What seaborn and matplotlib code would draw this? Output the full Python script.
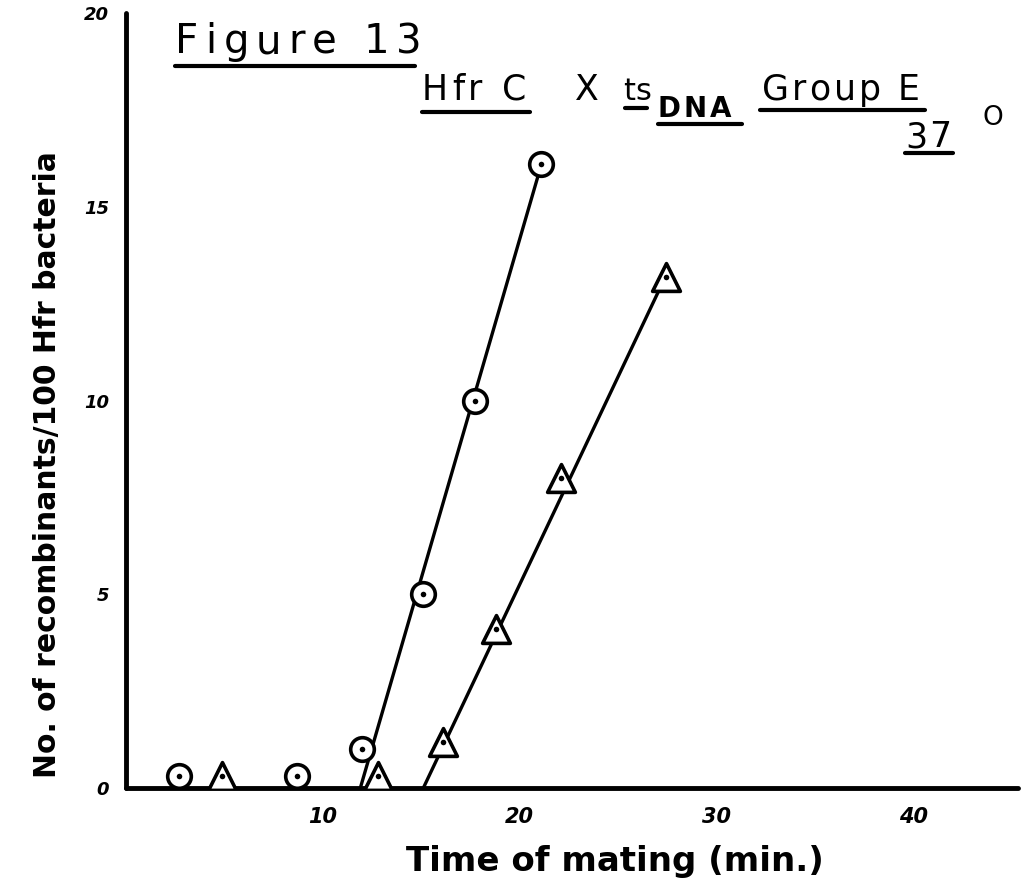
import matplotlib
matplotlib.use("Agg")
import matplotlib.pyplot as plt
from matplotlib.lines import Line2D
import seaborn as sns
import pandas as pd

# ---- data ----
circle_x = [2.7, 8.7, 12.0, 15.1, 17.7, 21.1]
circle_y = [0.3, 0.3, 1.0, 5.0, 10.0, 16.1]
triangle_x = [4.9, 12.8, 16.1, 18.8, 22.1, 27.4]
triangle_y = [0.3, 0.3, 1.2, 4.1, 8.0, 13.2]
# fitted lines (x-intercept to last point)
circle_fit_x = [11.9, 21.1]
circle_fit_y = [0.0, 16.1]
triangle_fit_x = [15.1, 27.4]
triangle_fit_y = [0.0, 13.2]

x_ticks = [10, 20, 30, 40]
y_ticks = [0, 5, 10, 15, 20]
x_label = "Time of mating (min.)"
y_label = "No. of recombinants/100 Hfr bacteria"

sns.set_theme(style="white")
plt.rcParams['font.family'] = ['DejaVu Sans']
plt.rcParams['text.color'] = 'black'
plt.rcParams['axes.labelcolor'] = 'black'
plt.rcParams['xtick.color'] = 'black'
plt.rcParams['ytick.color'] = 'black'

W, H = 1030, 890
fig = plt.figure(figsize=(W / 100, H / 100), dpi=100)
ax = fig.add_axes([126 / W, 1 - 788 / H, (1018 - 126) / W, (788 - 13) / H])

circ = pd.DataFrame({"x": circle_x, "y": circle_y})
tri = pd.DataFrame({"x": triangle_x, "y": triangle_y})

sns.lineplot(x=circle_fit_x, y=circle_fit_y, ax=ax, color="black", lw=2.4, zorder=2)
sns.lineplot(x=triangle_fit_x, y=triangle_fit_y, ax=ax, color="black", lw=2.4, zorder=2)

sns.scatterplot(data=circ, x="x", y="y", ax=ax, marker="o", s=17 ** 2,
                facecolor="white", edgecolor="black", linewidth=2.6, zorder=3)
sns.scatterplot(data=tri, x="x", y="y", ax=ax, marker="^", s=20 ** 2,
                facecolor="white", edgecolor="black", linewidth=2.6, zorder=3)
# centre dots
sns.scatterplot(data=circ, x="x", y="y", ax=ax, marker="o", s=16,
                color="black", linewidth=0, zorder=4)
sns.scatterplot(data=tri, x="x", y="y", ax=ax, marker="o", s=16,
                color="black", linewidth=0, zorder=4)

ax.set_xlim(0, 45.3)
ax.set_ylim(0, 20)
ax.set_xticks(x_ticks)
ax.set_yticks(y_ticks)
ax.set_xticklabels([str(t) for t in x_ticks], fontsize=15, fontstyle="italic", fontweight="bold")
ax.set_yticklabels([str(t) for t in y_ticks], fontsize=13, fontstyle="italic", fontweight="bold")
ax.tick_params(axis="x", direction="in", length=9, width=2, pad=14, colors="black")
ax.tick_params(axis="y", direction="in", length=12, width=2, pad=12, colors="black")
for s in ["top", "right"]:
    ax.spines[s].set_visible(False)
for s in ["left", "bottom"]:
    ax.spines[s].set_linewidth(3.5)
    ax.spines[s].set_color("black")
    ax.spines[s].set_capstyle("round")
ax.set_xlabel("")
ax.set_ylabel("")
ax.grid(False)

renderer = fig.canvas.get_renderer()


def spaced(x, y, s, gap, rotation=0, **kw):
    """Draw text s letter by letter (pixel coords, y from top) with extra gap."""
    pos = x
    for ch in s:
        if rotation == 0:
            t = fig.text(pos / W, 1 - y / H, ch, ha="left", va="baseline", **kw)
            bb = t.get_window_extent(renderer)
            if ch == " ":
                wdt = kw.get("fontsize", 12) * 100 / 72 * 0.32
            else:
                wdt = bb.width
            pos += wdt + gap
        else:
            t = fig.text(y / W, 1 - pos / H, ch, ha="left", va="baseline",
                         rotation=90, rotation_mode="anchor", **kw)
            bb = t.get_window_extent(renderer)
            if ch == " ":
                wdt = kw.get("fontsize", 12) * 100 / 72 * 0.32
            else:
                wdt = bb.height
            pos -= wdt + gap


def uline(x0, x1, y, lw=3):
    fig.add_artist(Line2D([x0 / W, x1 / W], [1 - y / H, 1 - y / H],
                          transform=fig.transFigure, color="black", lw=lw,
                          solid_capstyle="round"))


# axis labels
fig.text(615 / W, 1 - 862 / H, x_label, ha="center", va="center",
         fontsize=24.5, fontweight="bold")
fig.text(48 / W, 1 - 465 / H, y_label, ha="center", va="center",
         rotation=90, fontsize=21.5, fontweight="bold")

spaced(175, 53, "Figure 13", 7, fontsize=29)
uline(175, 415, 66)
spaced(422, 100, "Hfr C", 4, fontsize=25)
uline(422, 530, 112)
spaced(575, 100, "X", 0, fontsize=25)
spaced(623, 100, "ts", 0, fontsize=22)
uline(625, 647, 108)
spaced(658, 117, "DNA", 3, fontsize=20, fontweight="bold")
uline(658, 742, 124)
spaced(762, 100, "Group E", 3, fontsize=25)
uline(760, 925, 110)
spaced(905, 147, "37", 2, fontsize=25)
uline(905, 953, 153)
spaced(982, 125, "O", 0, fontsize=19)

fig.savefig("out.png", dpi=100)
